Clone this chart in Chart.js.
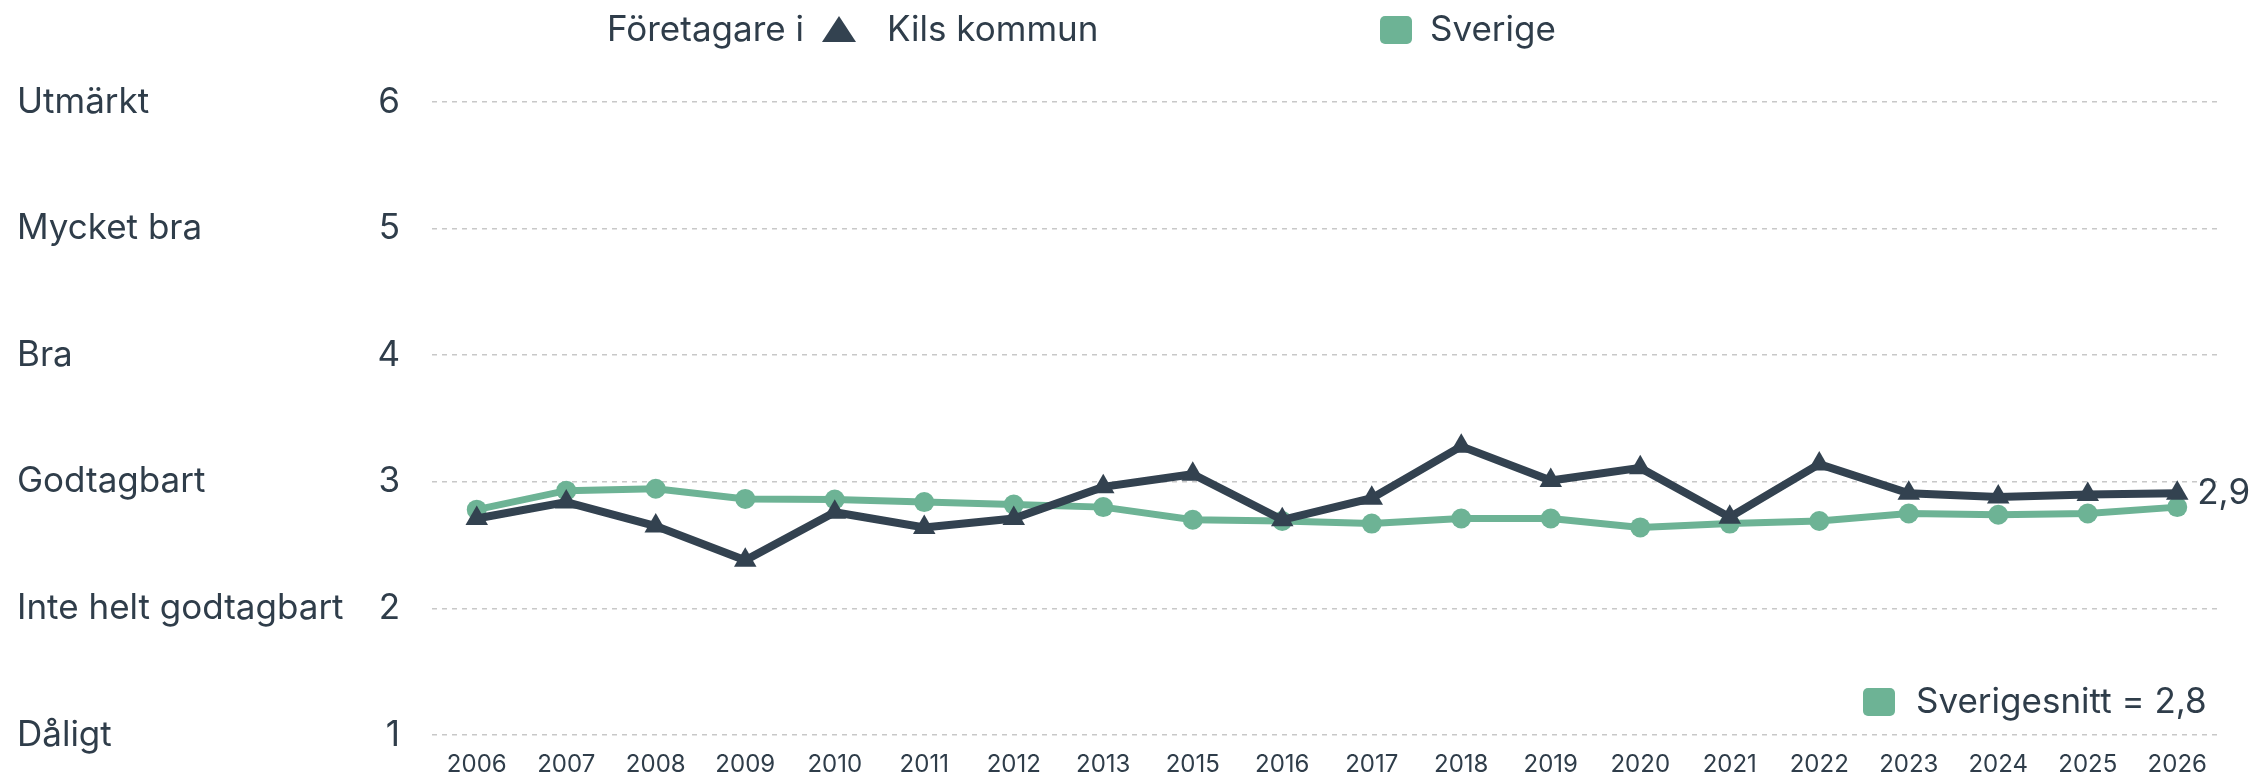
<!DOCTYPE html>
<html>
<head>
<meta charset="utf-8">
<script src="https://cdn.jsdelivr.net/npm/chart.js@4"></script>
<style>
  html, body { margin: 0; padding: 0; background: #fff; }
  #wrap { width: 2265px; height: 779px; position: relative; }
</style>
</head>
<body>
<div id="wrap"><canvas id="graf"></canvas></div>
<script>
// Data
const years = ['2006', '2007', '2008', '2009', '2010', '2011', '2012', '2013', '2015', '2016',
               '2017', '2018', '2019', '2020', '2021', '2022', '2023', '2024', '2025', '2026'];
const kils = [2.71, 2.84, 2.65, 2.38, 2.76, 2.64, 2.71, 2.96, 3.06, 2.70,
              2.87, 3.28, 3.01, 3.11, 2.72, 3.14, 2.91, 2.88, 2.90, 2.91];
const sverige = [2.78, 2.93, 2.945, 2.865, 2.86, 2.84, 2.82, 2.80, 2.70, 2.69,
                 2.67, 2.71, 2.71, 2.64, 2.67, 2.69, 2.75, 2.74, 2.75, 2.80];
const omdomen = ['Dåligt', 'Inte helt godtagbart', 'Godtagbart', 'Bra', 'Mycket bra', 'Utmärkt'];
const sistaVarde = '2,9';
const snittText = 'Sverigesnitt = 2,8';

const mork = '#334250';
const gron = '#6db395';
const textFarg = '#2f3d4a';
const typsnitt = 'Inter, "Noto Sans", sans-serif';

// Egen rubrik/legend och etiketter
const extraText = {
    id: 'extraText',
    afterDraw(chart) {
        const ctx = chart.ctx;
        ctx.save();
        ctx.font = '35px ' + typsnitt;
        ctx.fillStyle = textFarg;
        ctx.textBaseline = 'middle';
        ctx.textAlign = 'left';

        // toppen
        const yTop = 30;
        ctx.fillText('Företagare i', 607, yTop);
        ctx.fillStyle = mork;
        ctx.beginPath();
        ctx.moveTo(839, yTop - 14);
        ctx.lineTo(856, yTop + 12);
        ctx.lineTo(822, yTop + 12);
        ctx.closePath();
        ctx.fill();
        ctx.fillStyle = textFarg;
        ctx.fillText('Kils kommun', 887, yTop);
        ctx.fillStyle = gron;
        ctx.beginPath();
        ctx.roundRect(1380, yTop - 14, 32, 28, 5);
        ctx.fill();
        ctx.fillStyle = textFarg;
        ctx.fillText('Sverige', 1430, yTop);

        // sista värdet
        const meta = chart.getDatasetMeta(0);
        const sista = meta.data[meta.data.length - 1];
        ctx.fillText(sistaVarde, sista.x + 20, sista.y);

        // sverigesnitt
        const ySn = 702;
        ctx.fillStyle = gron;
        ctx.beginPath();
        ctx.roundRect(1863, ySn - 14, 32, 28, 5);
        ctx.fill();
        ctx.fillStyle = textFarg;
        ctx.fillText(snittText, 1916, ySn);
        ctx.restore();
    }
};

function utanKantPadding(axis, bredd) {
    axis.width = bredd;
    axis.paddingTop = 0;
    axis.paddingBottom = 0;
}

const config = {
    type: 'line',
    data: {
        labels: years,
        datasets: [{
            label: 'Kils kommun',
            data: kils,
            borderColor: mork,
            backgroundColor: mork,
            borderWidth: 8,
            pointStyle: 'triangle',
            pointRadius: 13,
            pointBorderWidth: 0,
            yAxisID: 'y'
        }, {
            label: 'Sverige',
            data: sverige,
            borderColor: gron,
            backgroundColor: gron,
            borderWidth: 7,
            pointStyle: 'circle',
            pointRadius: 10,
            pointBorderWidth: 0,
            yAxisID: 'y'
        }]
    },
    options: {
        responsive: true,
        maintainAspectRatio: false,
        animation: false,
        layout: { padding: { left: 17, right: 43, top: 102, bottom: 0 } },
        plugins: {
            legend: { display: false },
            tooltip: { enabled: false }
        },
        scales: {
            x: {
                offset: true,
                grid: { display: false, drawTicks: false },
                border: { display: false },
                ticks: { color: textFarg, font: { family: typsnitt, size: 24 }, padding: 15, maxRotation: 0, autoSkip: false },
                afterFit(axis) { axis.height = 44; }
            },
            y: {
                position: 'left',
                weight: 0,
                min: 1,
                max: 6,
                grid: { color: '#c8c8c8', lineWidth: 1.5, drawTicks: false },
                border: { display: false, dash: [5, 5] },
                ticks: { stepSize: 1, color: textFarg, font: { family: typsnitt, size: 35, lineHeight: 0.05 }, padding: 32 },
                afterFit(axis) { utanKantPadding(axis, 55); }
            },
            yText: {
                type: 'linear',
                position: 'left',
                weight: 1,
                min: 1,
                max: 6,
                grid: { display: false, drawTicks: false },
                border: { display: false },
                ticks: {
                    stepSize: 1,
                    color: textFarg,
                    crossAlign: 'far',
                    padding: 0,
                    font: { family: typsnitt, size: 35, lineHeight: 0.05 },
                    callback: (v) => omdomen[v - 1]
                },
                afterFit(axis) { utanKantPadding(axis, 360); }
            }
        }
    },
    plugins: [extraText]
};

var graf = new Chart(document.getElementById('graf'), config);
</script>
</body>
</html>
